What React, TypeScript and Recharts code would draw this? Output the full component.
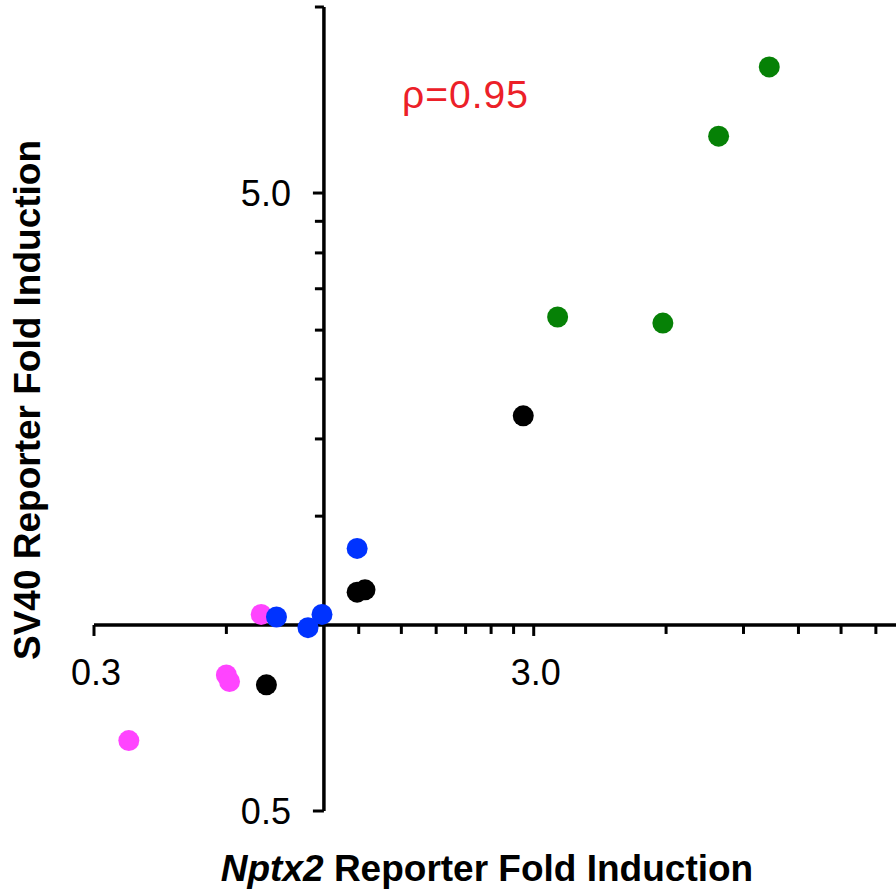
import { ScatterChart, Scatter, XAxis, YAxis, ReferenceLine, ReferenceDot } from 'recharts';

// values (log-log, axes cross at 1,1)
const pinkPoints = [
  { x: 0.72, y: 1.04 },
  { x: 0.6, y: 0.83 },
  { x: 0.61, y: 0.81 },
  { x: 0.36, y: 0.65 },
];
const bluePoints = [
  { x: 1.19, y: 1.33 },
  { x: 0.78, y: 1.03 },
  { x: 0.92, y: 0.99 },
  { x: 0.99, y: 1.04 },
];
const blackPoints = [
  { x: 2.84, y: 2.18 },
  { x: 1.19, y: 1.13 },
  { x: 1.24, y: 1.14 },
  { x: 0.74, y: 0.8 },
];
const greenPoints = [
  { x: 10.3, y: 8.0 },
  { x: 7.9, y: 6.18 },
  { x: 3.4, y: 3.15 },
  { x: 5.9, y: 3.08 },
];

const xTicks = [0.3, 0.6, 0.9, 1.2, 1.5, 1.8, 2.1, 2.4, 2.7, 3.0, 6, 9, 12, 15, 18];
const yTicks = [0.5, 1.5, 2.0, 2.5, 3.0, 3.5, 4.0, 4.5, 5.0, 10];
const xTickLabels: Record<string, string> = { '0.3': '0.3', '3': '3.0' };
const yTickLabels: Record<string, string> = { '0.5': '0.5', '5': '5.0' };

const FONT = '"Liberation Sans", Arial, Helvetica, sans-serif';

const dot = (color: string) => (p: any) => <circle cx={p.cx} cy={p.cy} r={10.5} fill={color} />;

export default function App() {
  return (
    <div style={{ position: 'absolute', left: 0, top: 0 }}>
      <ScatterChart width={896} height={892} margin={{ top: 7, right: 0, bottom: 81, left: 94 }}>
        <XAxis type="number" dataKey="x" scale="log" domain={[0.3, 20]} allowDataOverflow hide />
        <YAxis type="number" dataKey="y" scale="log" domain={[0.5, 10]} allowDataOverflow hide />

        <ReferenceLine y={1} stroke="#000" strokeWidth={3.5} />
        <ReferenceLine x={1} stroke="#000" strokeWidth={3.5} />

        {xTicks.map((t) => {
          const label = xTickLabels[String(t)];
          return (
            <ReferenceDot
              key={'xt' + t}
              x={t}
              y={1}
              ifOverflow="visible"
              shape={(p: any) => (
                <g>
                  <line x1={p.cx} y1={p.cy} x2={p.cx} y2={p.cy + (label ? 11 : 9)} stroke="#000" strokeWidth={3} />
                  {label && (
                    <text x={p.cx + 2} y={p.cy + 60} textAnchor="middle" fontFamily={FONT} fontSize={36} fill="#000">
                      {label}
                    </text>
                  )}
                </g>
              )}
            />
          );
        })}
        {yTicks.map((t) => {
          const label = yTickLabels[String(t)];
          return (
            <ReferenceDot
              key={'yt' + t}
              x={1}
              y={t}
              ifOverflow="visible"
              shape={(p: any) => (
                <g>
                  <line x1={p.cx} y1={p.cy} x2={p.cx - (label ? 11 : 9)} y2={p.cy} stroke="#000" strokeWidth={3} />
                  {label && (
                    <text x={p.cx - 33} y={p.cy + 13} textAnchor="end" fontFamily={FONT} fontSize={36} fill="#000">
                      {label}
                    </text>
                  )}
                </g>
              )}
            />
          );
        })}

        <Scatter data={pinkPoints} shape={dot('#ff44ff')} isAnimationActive={false} />
        <Scatter data={bluePoints} shape={dot('#0033ff')} isAnimationActive={false} />
        <Scatter data={blackPoints} shape={dot('#000000')} isAnimationActive={false} />
        <Scatter data={greenPoints} shape={dot('#068106')} isAnimationActive={false} />

        <text x={402} y={108} fontFamily={FONT} fontSize={39} letterSpacing={1} fill="#ec2028">
          ρ=0.95
        </text>
        <text
          x={40}
          y={400}
          transform="rotate(-90, 40, 400)"
          textAnchor="middle"
          fontFamily={FONT}
          fontSize={37}
          fontWeight="bold"
          fill="#000"
        >
          SV40 Reporter Fold Induction
        </text>
        <text x={487} y={881} textAnchor="middle" fontFamily={FONT} fontSize={37} fontWeight="bold" fill="#000">
          <tspan fontStyle="italic">Nptx2</tspan>
          <tspan> Reporter Fold Induction</tspan>
        </text>
      </ScatterChart>
    </div>
  );
}
